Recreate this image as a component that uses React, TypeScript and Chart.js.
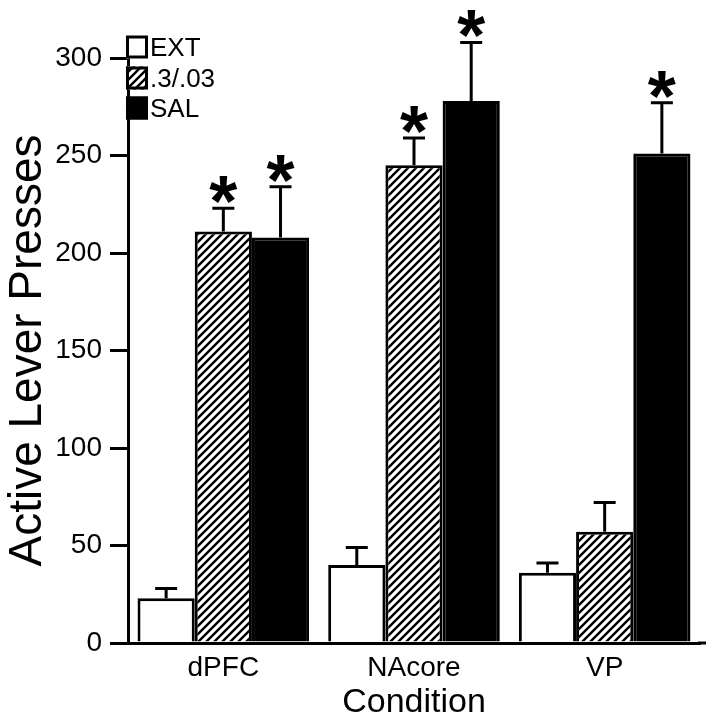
import React, { useEffect, useRef } from "react";
import { Chart, registerables } from "chart.js";

Chart.register(...registerables);

const categories = ["dPFC", "NAcore", "VP"];
const seriesLabels = ["EXT", ".3/.03", "SAL"];
const extValues = [23, 40, 36];
const extErrors = [5, 9, 5];
const drugValues = [211, 245, 57];
const drugErrors = [12, 14, 15];
const salValues = [208, 278, 251];
const salErrors = [26, 30, 26];
const extStars = [false, false, false];
const drugStars = [true, true, false];
const salStars = [true, true, true];
const yTicks = [0, 50, 100, 150, 200, 250, 300];

const FONT = "'Liberation Sans', Arial, Helvetica, sans-serif";

function makeHatch(ctx: CanvasRenderingContext2D) {
  const c = document.createElement("canvas");
  c.width = 8;
  c.height = 8;
  const g = c.getContext("2d")!;
  g.fillStyle = "#fff";
  g.fillRect(0, 0, 8, 8);
  g.strokeStyle = "#000";
  g.lineWidth = 2.4;
  g.beginPath();
  g.moveTo(-2, 10);
  g.lineTo(10, -2);
  g.moveTo(-2, 2);
  g.lineTo(2, -2);
  g.moveTo(6, 10);
  g.lineTo(10, 6);
  g.stroke();
  return ctx.createPattern(c, "repeat");
}

export default function App() {
  const ref = useRef<HTMLCanvasElement>(null);
  useEffect(() => {
    const canvas = ref.current!;
    const ctx = canvas.getContext("2d")!;
    const hatch = makeHatch(ctx);
    const errs = [extErrors, drugErrors, salErrors];
    const stars = [extStars, drugStars, salStars];
    const fills: any[] = ["#ffffff", hatch, "#000000"];

    const overlay = {
      id: "overlay",
      afterDatasetsDraw(chart: any) {
        const c = chart.ctx;
        const y = chart.scales.y;
        c.save();
        c.strokeStyle = "#000";
        c.fillStyle = "#000";
        c.lineWidth = 3;
        chart.data.datasets.forEach((ds: any, i: number) => {
          const meta = chart.getDatasetMeta(i);
          meta.data.forEach((bar: any, j: number) => {
            const v = ds.data[j];
            const e = errs[i][j];
            const top = y.getPixelForValue(v);
            const cap = y.getPixelForValue(v + e);
            c.beginPath();
            c.moveTo(bar.x, top);
            c.lineTo(bar.x, cap);
            c.moveTo(bar.x - 11, cap);
            c.lineTo(bar.x + 11, cap);
            c.stroke();
            if (stars[i][j]) {
              c.font = `bold 72px ${FONT}`;
              c.textAlign = "center";
              c.textBaseline = "alphabetic";
              c.fillText("*", bar.x, cap - 24 + 42);
            }
          });
        });
        // extend x axis line
        const area = chart.chartArea;
        c.beginPath();
        c.moveTo(area.right - 2, area.bottom);
        c.lineTo(706, area.bottom);
        c.stroke();
        // legend
        const rows = [47, 78, 108];
        c.font = `26px ${FONT}`;
        c.textAlign = "left";
        c.textBaseline = "middle";
        seriesLabels.forEach((lab, i) => {
          const cy = rows[i];
          const bx = 126;
          const bw = 22;
          const bh = 23;
          c.fillStyle = fills[i];
          c.fillRect(bx, cy - bh / 2, bw, bh);
          c.lineWidth = 3;
          c.strokeStyle = "#000";
          c.strokeRect(bx + 1.5, cy - bh / 2 + 1.5, bw - 3, bh - 3);
          c.fillStyle = "#000";
          c.fillText(lab, bx + bw + 2, cy + 2);
        });
        c.restore();
      },
    };

    const chart = new Chart(canvas, {
      type: "bar",
      data: {
        labels: categories,
        datasets: [
          { label: seriesLabels[0], data: extValues, backgroundColor: "#ffffff", borderColor: "#000", borderWidth: 3 },
          { label: seriesLabels[1], data: drugValues, backgroundColor: hatch as any, borderColor: "#000", borderWidth: 3 },
          { label: seriesLabels[2], data: salValues, backgroundColor: "#000000", borderColor: "#000", borderWidth: 3 },
        ],
      },
      options: {
        responsive: false,
        animation: false,
        devicePixelRatio: 1,
        layout: { padding: { top: 58, right: 8, bottom: 0, left: 0 } },
        plugins: { legend: { display: false }, tooltip: { enabled: false } },
        datasets: { bar: { categoryPercentage: 0.9, barPercentage: 1.0 } },
        scales: {
          x: {
            grid: { display: false, drawTicks: false },
            border: { display: true, color: "#000", width: 3 },
            ticks: { color: "#000", font: { family: FONT, size: 28 }, padding: 8 },
            title: {
              display: true,
              text: "Condition",
              color: "#000",
              font: { family: FONT, size: 34, lineHeight: 1 },
              padding: { top: 0, bottom: 0 },
            },
            afterFit(scale: any) {
              scale.height = 77;
            },
          },
          y: {
            min: 0,
            max: 300,
            afterBuildTicks(scale: any) {
              scale.ticks = yTicks.map((v) => ({ value: v }));
            },
            grid: { display: true, drawOnChartArea: false, drawTicks: true, tickLength: 18, color: "#000", lineWidth: 3 },
            border: { display: true, color: "#000", width: 3 },
            ticks: { color: "#000", font: { family: FONT, size: 28 }, padding: 8 },
            title: {
              display: true,
              text: "Active Lever Presses",
              color: "#000",
              font: { family: FONT, size: 46, lineHeight: 1 },
              padding: { top: 5, bottom: 0 },
            },
            afterFit(scale: any) {
              scale.width = 128;
            },
          },
        },
      },
      plugins: [overlay],
    });
    return () => chart.destroy();
  }, []);
  return (
    <div style={{ position: "fixed", left: 0, top: 0, width: 708, height: 720, background: "#fff" }}>
      <canvas ref={ref} width={708} height={720} style={{ width: 708, height: 720 }} />
    </div>
  );
}
